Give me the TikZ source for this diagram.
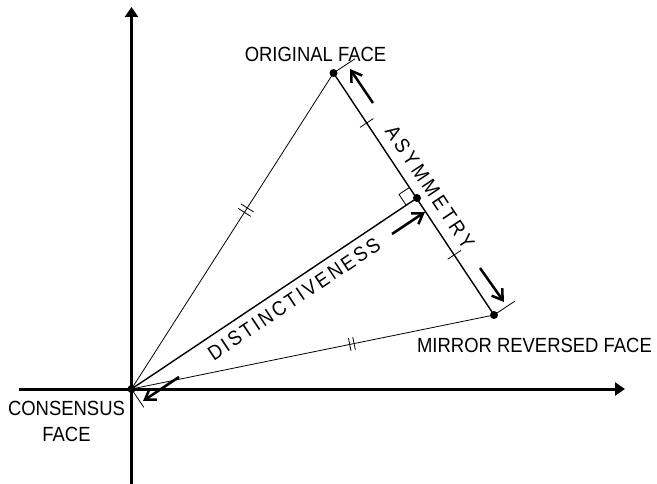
\documentclass[tikz,border=0pt]{standalone}
\usepackage{fontspec}
\setmainfont{Liberation Sans}[FakeStretch=0.9]
\newfontfamily\asymfont{Liberation Sans}[FakeStretch=0.9,LetterSpace=16.5]
\newfontfamily\distfont{Liberation Sans}[FakeStretch=0.9,LetterSpace=13]
\usetikzlibrary{arrows.meta,calc}
\tikzset{
  axis/.style={line width=3pt,-{Triangle[length=10pt,width=13pt]}},
  thinline/.style={line width=0.8pt},
  mainline/.style={line width=1.4pt},
  tickline/.style={line width=0.8pt},
  dimarrow/.style={line width=2.5pt,-{Straight Barb[length=10pt,width=13pt]}},
  pt/.style={circle,fill=black,inner sep=0pt,minimum size=8pt},
  lbl/.style={inner sep=0pt,font=\fontsize{20.5}{26.5}\selectfont},
  slbl/.style={inner sep=0pt}
}
\begin{document}
\begin{tikzpicture}[x=1pt,y=-1pt]
\useasboundingbox (0,0) rectangle (657,484);
% key points
\coordinate (O) at (131.5,389);
\coordinate (A) at (333.5,73);
\coordinate (B) at (494,315);
\coordinate (M) at (417,198);
% axes
\coordinate (xs) at (19,389);
\coordinate (xe) at (625,389);
\coordinate (ys) at (131.5,484);
\coordinate (ye) at (131.5,7);
\draw[axis] (xs) -- (xe);
\draw[axis] (ys) -- (ye);
% triangle sides
\draw[thinline] (O) -- (A);
\draw[thinline] (O) -- (B);
\draw[mainline] (A) -- (B);
\draw[mainline] (O) -- (M);
% extension lines
\draw[tickline] (A) -- ($(A)!26pt!90:(B)$);
\draw[tickline] (B) -- ($(B)!25pt!-90:(A)$);
\draw[tickline] (O) -- ($(O)!22pt!-90:(M)$);
% right angle mark
\coordinate (s1) at ($(M)!13pt!(O)$);
\coordinate (s2) at ($(M)!13pt!(A)$);
\coordinate (s3) at ($(s1)+(s2)-(M)$);
\draw[tickline] (s1) -- (s3) -- (s2);
% single ticks on AB
\coordinate (t1) at ($(A)!60pt!(B)$);
\coordinate (t2) at ($(M)!68pt!(B)$);
\draw[tickline] ($(t1)!8pt!90:(B)$) -- ($(t1)!8pt!-90:(B)$);
\draw[tickline] ($(t2)!8pt!90:(B)$) -- ($(t2)!8pt!-90:(B)$);
% double ticks on OA
\coordinate (d1) at ($(O)!0.559!(A)$);
\coordinate (d2) at ($(O)!0.573!(A)$);
\draw[tickline] ($(d1)!7.5pt!90:(A)$) -- ($(d1)!7.5pt!-90:(A)$);
\draw[tickline] ($(d2)!7.5pt!90:(A)$) -- ($(d2)!7.5pt!-90:(A)$);
% double ticks on OB
\coordinate (e1) at ($(O)!0.602!(B)$);
\coordinate (e2) at ($(O)!0.614!(B)$);
\draw[tickline] ($(e1)!6.5pt!90:(B)$) -- ($(e1)!6.5pt!-90:(B)$);
\draw[tickline] ($(e2)!6.5pt!90:(B)$) -- ($(e2)!6.5pt!-90:(B)$);
% dots
\node[pt] (nA) at (A) {};
\node[pt] (nB) at (B) {};
\node[pt] (nM) at (M) {};
\node[pt] (nO) at (O) {};
% dimension arrows
\coordinate (a1s) at (373,103);
\coordinate (a1e) at (350,69);
\coordinate (a2s) at (480,268);
\coordinate (a2e) at (504,302);
\coordinate (a3s) at (392,234);
\coordinate (a3e) at (425,212);
\coordinate (a4s) at (179,377);
\coordinate (a4e) at (143,401);
\draw[dimarrow] (a1s) -- (a1e);
\draw[dimarrow] (a2s) -- (a2e);
\draw[dimarrow] (a3s) -- (a3e);
\draw[dimarrow] (a4s) -- (a4e);
% labels
\node[lbl] (orig) at (315.5,54.6) {ORIGINAL FACE};
\node[lbl] (mirr) at (534.5,345.5) {MIRROR REVERSED FACE};
\node[lbl,align=center,anchor=north] (cons) at (66.5,400.7) {CONSENSUS\\FACE};
\node[slbl,rotate=-56.4,font=\fontsize{20.5}{22}\asymfont] (asym) at (430,187) {ASYMMETRY};
\node[slbl,rotate=33.8,font=\fontsize{20.5}{22}\distfont] (dist) at (294,299) {DISTINCTIVENESS};
\end{tikzpicture}
\end{document}
